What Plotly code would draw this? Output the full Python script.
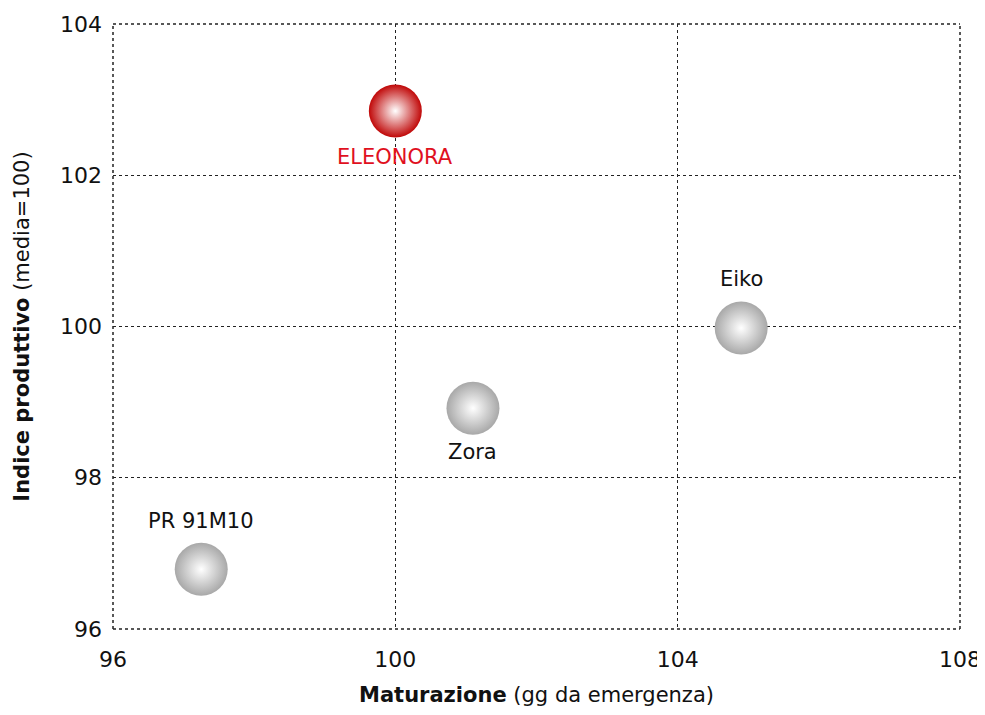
import plotly.graph_objects as go

names = ["ELEONORA", "Eiko", "Zora", "PR 91M10"]
maturazione = [100.0, 104.9, 101.1, 97.25]
indice = [102.85, 99.98, 98.92, 96.79]

# styling per label (offset in px, colours)
label_shift = [-46, 49, -44, 48]
edge_colors = ["#c00808", "#a8a8a8", "#a8a8a8", "#a8a8a8"]
text_colors = ["#e0101e", "#111111", "#111111", "#111111"]

x_ticks = [96, 100, 104, 108]
y_ticks = [96, 98, 100, 102, 104]

FONT = "DejaVu Sans"

fig = go.Figure()
for n, x, y, sh, ec, tc in zip(names, maturazione, indice, label_shift, edge_colors, text_colors):
    fig.add_trace(go.Scatter(
        x=[x], y=[y], mode="markers",
        marker=dict(size=53, color=ec, line=dict(width=0),
                    gradient=dict(type="radial", color="white")),
        showlegend=False, cliponaxis=False, hoverinfo="text", hovertext=[n],
    ))
    fig.add_annotation(x=x, y=y, text=n, showarrow=False, yshift=sh,
                       font=dict(family=FONT, size=21, color=tc))

fig.update_layout(
    width=977, height=699,
    margin=dict(l=105, r=25, t=16, b=78),
    paper_bgcolor="white", plot_bgcolor="white",
    font=dict(family=FONT, size=22, color="#111111"),
    xaxis=dict(range=[96, 108], tickvals=x_ticks, showgrid=True, gridcolor="#222222",
               griddash="dot", gridwidth=1, zeroline=False, showline=False,
               automargin=False, ticks="", ticklabelstandoff=15,
               ticklabeloverflow="allow",
               title=dict(text="<b>Maturazione</b> (gg da emergenza)", standoff=30,
                          font=dict(family=FONT, size=21))),
    yaxis=dict(range=[96, 104], tickvals=y_ticks, showgrid=True, gridcolor="#222222",
               griddash="dot", gridwidth=1, zeroline=False, showline=False,
               automargin=False, ticks="", ticklabelstandoff=10,
               title=dict(text="<b>Indice produttivo</b> (media=100)", standoff=24,
                          font=dict(family=FONT, size=21))),
)
for s in [dict(x0=0, x1=1, y0=0, y1=0), dict(x0=0, x1=1, y0=1, y1=1),
          dict(x0=0, x1=0, y0=0, y1=1), dict(x0=1, x1=1, y0=0, y1=1)]:
    fig.add_shape(type="line", xref="paper", yref="paper", line=dict(color="#222222", width=1.5, dash="dot"), **s)

fig.write_html("out.html")
